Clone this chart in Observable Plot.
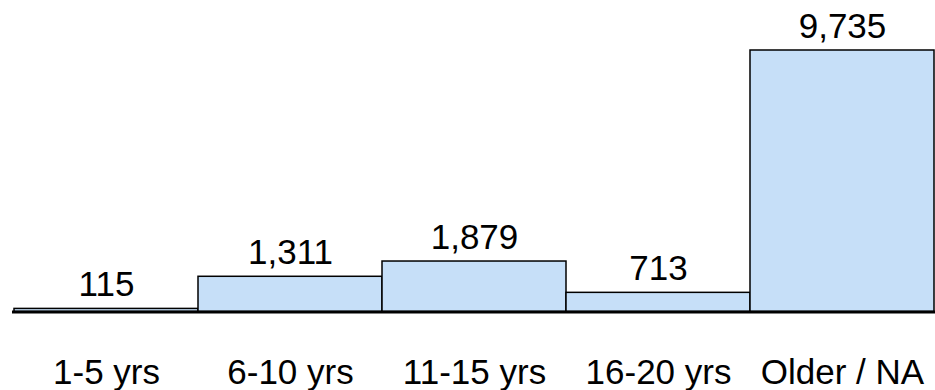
<!DOCTYPE html>
<html>
<head>
<meta charset="utf-8">
<script src="https://cdn.jsdelivr.net/npm/d3@7"></script>
<script src="https://cdn.jsdelivr.net/npm/@observablehq/plot@0.6"></script>
<style>
  html, body { margin: 0; padding: 0; background: #fff; }
</style>
</head>
<body>
<div id="chart"></div>
<script>
const categories = ["1-5 yrs", "6-10 yrs", "11-15 yrs", "16-20 yrs", "Older / NA"];
const counts = [115, 1311, 1879, 713, 9735];

const data = categories.map((c, i) => ({category: c, count: counts[i]}));
const fmt = d3.format(",");

const chart = Plot.plot({
  width: 935,
  height: 390,
  marginLeft: 12,
  marginRight: 0,
  marginTop: 50,
  marginBottom: 78.5,
  style: {fontFamily: "'Liberation Sans', Arial, sans-serif", background: "#fff"},
  x: {domain: categories, padding: 0, label: null},
  y: {domain: [0, 9735], axis: null},
  marks: [
    Plot.barY(data, {x: "category", y: "count", fill: "#c6dff8", stroke: "#000", strokeWidth: 1.5}),
    Plot.ruleY([0], {stroke: "#000", strokeWidth: 3}),
    Plot.text(data, {x: "category", y: "count", text: d => fmt(d.count), lineAnchor: "bottom", dy: -13, fontSize: 35, fill: "#000"}),
    Plot.axisX({tickSize: 0, tickPadding: 47, fontSize: 35, label: null, fill: "#000"})
  ]
});
document.getElementById("chart").appendChild(chart);
</script>
</body>
</html>
